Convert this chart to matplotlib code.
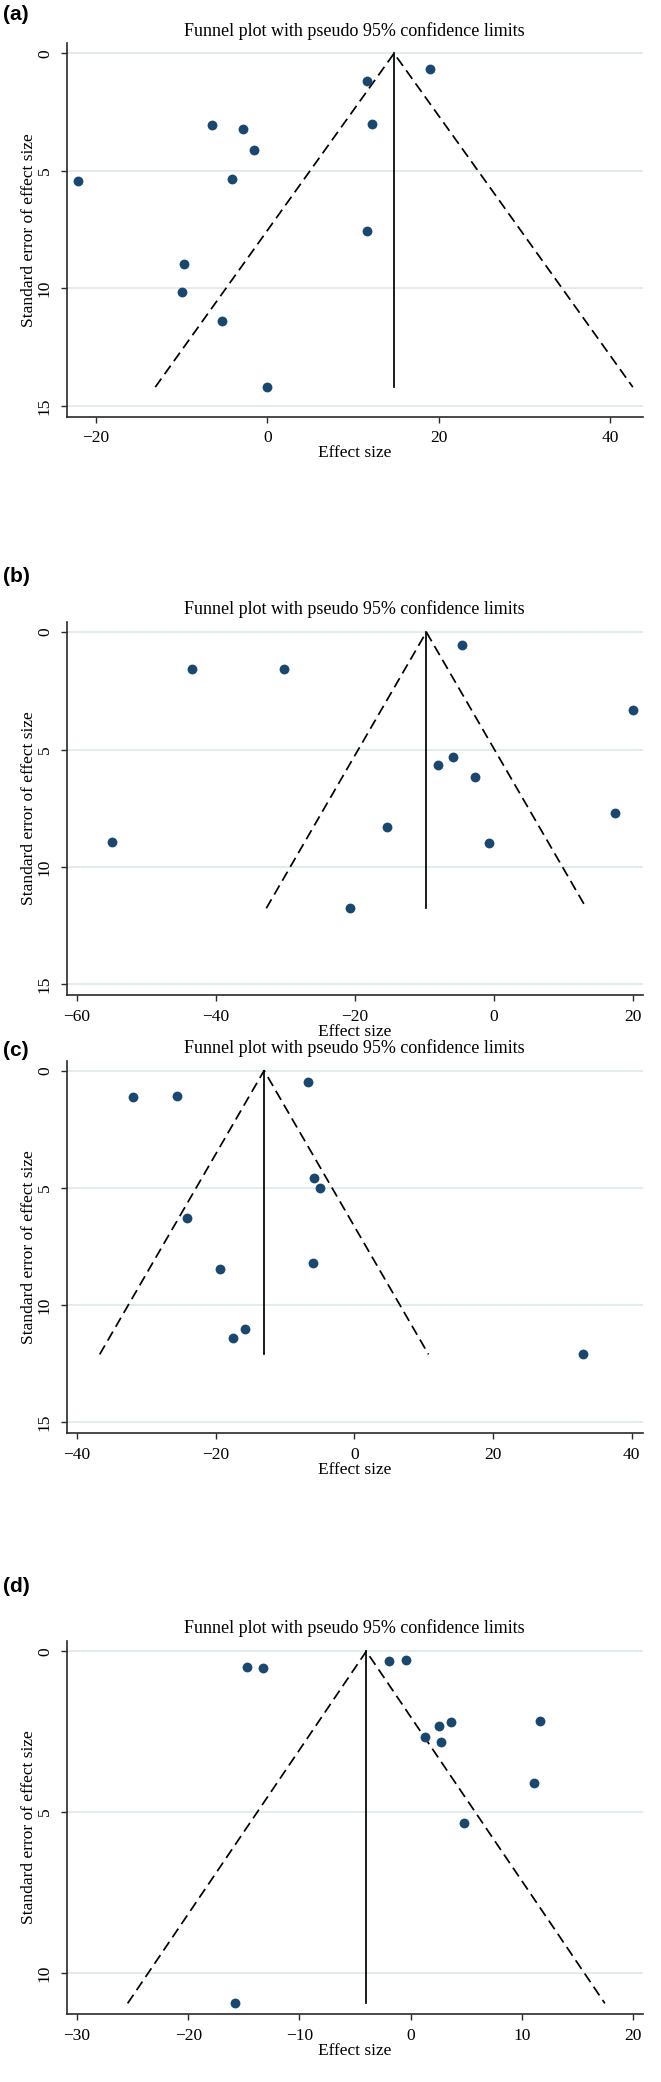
import matplotlib
matplotlib.use('Agg')
import matplotlib.pyplot as plt

# ---------------- data ----------------
a_effect = [19.0, 11.6, 12.2, -6.4, -2.8, -1.5, -4.1, -22.1, 11.6, -9.75, -9.9, -5.3, 0.0]
a_se = [0.65, 1.16, 2.99, 3.06, 3.23, 4.10, 5.33, 5.43, 7.57, 8.95, 10.14, 11.38, 14.2]
a_pooled = 14.78

b_effect = [-4.57, -43.4, -30.2, 20.05, -5.79, -8.04, -2.62, 17.43, -15.42, -55.0, -0.67, -20.7]
b_se = [0.55, 1.59, 1.59, 3.30, 5.31, 5.65, 6.15, 7.72, 8.29, 8.92, 8.97, 11.76]
b_pooled = -9.69

c_effect = [-6.6, -31.9, -25.5, -5.8, -4.95, -24.06, -6.0, -19.3, -15.7, -17.5, 33.0]
c_se = [0.50, 1.11, 1.10, 4.60, 4.99, 6.30, 8.2, 8.45, 11.0, 11.4, 12.1]
c_pooled = -13.0

d_effect = [-14.75, -13.3, -1.98, -0.38, 2.55, 3.61, 11.6, 1.33, 2.7, 11.1, 4.79, -15.8]
d_se = [0.49, 0.51, 0.31, 0.27, 2.32, 2.19, 2.16, 2.66, 2.82, 4.11, 5.34, 10.95]
d_pooled = -3.99

panel_labels = ['(a)', '(b)', '(c)', '(d)']
a_xticks = [-20, 0, 20, 40]
b_xticks = [-60, -40, -20, 0, 20]
c_xticks = [-40, -20, 0, 20, 40]
d_xticks = [-30, -20, -10, 0, 10, 20]
abc_yticks = [0, 5, 10, 15]
d_yticks = [0, 5, 10]

title_text = 'Funnel plot with pseudo 95% confidence limits'
xlabel_text = 'Effect size'
ylabel_text = 'Standard error of effect size'

# ---------------- layout (pixels) ----------------
W, H = 661, 2082
fig = plt.figure(figsize=(W / 100, H / 100), dpi=100)
fig.patch.set_facecolor('white')

SERIF = ['Liberation Serif', 'DejaVu Serif']
SANS = ['Liberation Sans', 'DejaVu Sans']
LEFT, RIGHT = 66.5, 643.0

panels = [
    dict(x=a_effect, se=a_se, pooled=a_pooled, xticks=a_xticks, yticks=abc_yticks,
         xlim=(-23.4, 43.8), ylim=(15.45, -0.43), top=43.3, bottom=416.5, label_y=14),
    dict(x=b_effect, se=b_se, pooled=b_pooled, xticks=b_xticks, yticks=abc_yticks,
         xlim=(-61.5, 21.5), ylim=(15.45, -0.43), top=622.0, bottom=995.0, label_y=576),
    dict(x=c_effect, se=c_se, pooled=c_pooled, xticks=c_xticks, yticks=abc_yticks,
         xlim=(-41.5, 41.65), ylim=(15.45, -0.43), top=1060.5, bottom=1433.0, label_y=1050),
    dict(x=d_effect, se=d_se, pooled=d_pooled, xticks=d_xticks, yticks=d_yticks,
         xlim=(-30.95, 20.9), ylim=(11.28, -0.32), top=1641.0, bottom=2014.0, label_y=1587),
]

marker_color = '#1a476f'
grid_color = '#e2ecef'
spine_color = '#2a2a2a'

for lab, p in zip(panel_labels, panels):
    ax = fig.add_axes([LEFT / W, 1 - p['bottom'] / H, (RIGHT - LEFT) / W,
                       (p['bottom'] - p['top']) / H])
    semax = max(p['se'])
    pooled = p['pooled']
    ax.plot([pooled - 1.96 * semax, pooled, pooled + 1.96 * semax], [semax, 0, semax],
            color='black', lw=1.25, ls=(0, (6.0, 3.2)), zorder=2)
    ax.plot([pooled, pooled], [0, semax], color='black', lw=1.25, zorder=2)
    ax.scatter(p['x'], p['se'], s=50, color=marker_color, linewidths=0, zorder=3)

    ax.set_xlim(*p['xlim'])
    ax.set_ylim(*p['ylim'])
    ax.set_xticks(p['xticks'])
    ax.set_yticks(p['yticks'])
    ax.grid(axis='y', color=grid_color, lw=1.4)
    ax.set_axisbelow(True)
    for s in ['top', 'right']:
        ax.spines[s].set_visible(False)
    for s in ['left', 'bottom']:
        ax.spines[s].set_color(spine_color)
        ax.spines[s].set_linewidth(1.2)
    ax.tick_params(axis='both', length=4.3, width=1.0, color=spine_color,
                   labelsize=12.5, pad=5.5)
    for t in ax.get_xticklabels() + ax.get_yticklabels():
        t.set_fontfamily(SERIF)
    for t in ax.get_yticklabels():
        t.set_rotation(90)
        t.set_va('center')

    cx = (LEFT + RIGHT) / 2 / W
    fig.text(cx, 1 - (p['top'] - 12.5) / H, title_text, ha='center', va='center',
             fontsize=13, family=SERIF)
    fig.text(cx, 1 - (p['bottom'] + 36.7) / H, xlabel_text, ha='center', va='center',
             fontsize=12.5, family=SERIF)
    fig.text(29.3 / W, 1 - ((p['top'] + p['bottom']) / 2) / H, ylabel_text, ha='center',
             va='center', rotation=90, fontsize=12.5, family=SERIF)
    fig.text(2.5 / W, 1 - p['label_y'] / H, lab, ha='left', va='center', fontsize=15,
             fontweight='bold', family=SANS)

fig.savefig('out.png', dpi=100, facecolor='white')
